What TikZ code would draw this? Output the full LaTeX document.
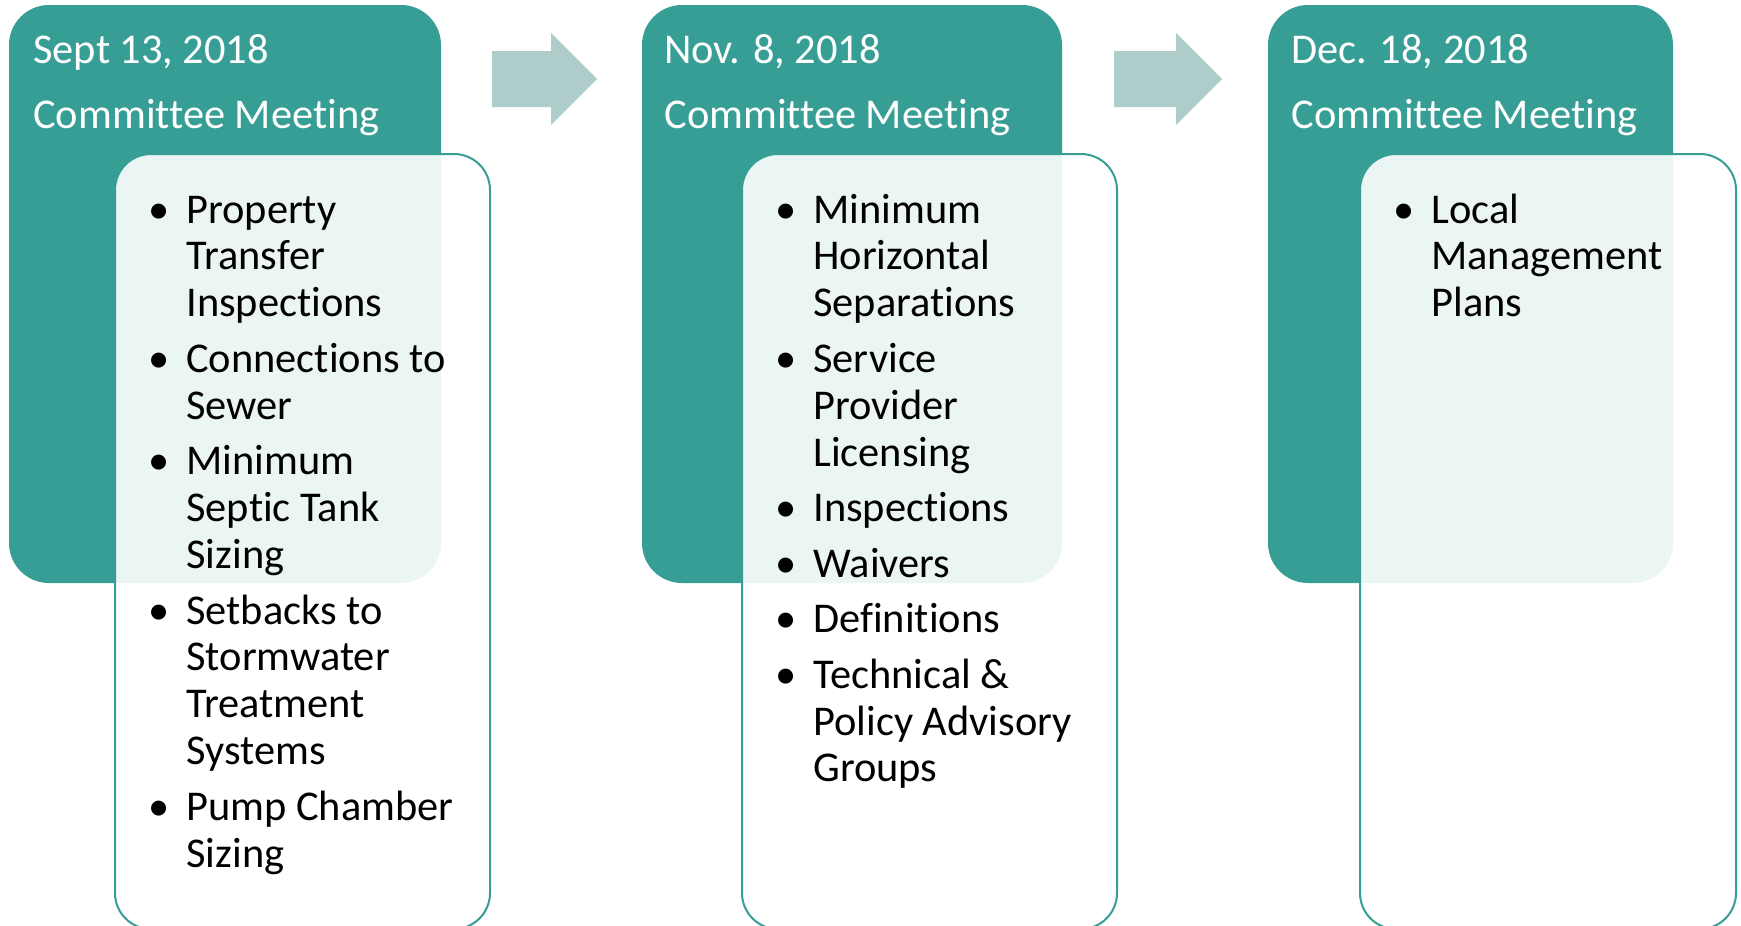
\documentclass[tikz,border=0pt]{standalone}
\usepackage{fontspec}
\setmainfont{Carlito}[Ligatures=NoCommon]
\usepackage{tikz}
\definecolor{meet}{HTML}{379E95}
\definecolor{flowc}{HTML}{AECDCA}
\definecolor{ink}{HTML}{000000}
\newcommand{\dfont}{\fontsize{21.2}{23.45}\selectfont}
\newcommand{\blt}[1]{\par\hangindent=13.5pt\hangafter=1\noindent\makebox[13.5pt][l]{\makebox[0pt][c]{\textbullet}}#1}
\newcommand{\topics}[1]{\parbox[t]{220pt}{\dfont\setlength{\parskip}{4.3pt}#1}}
\tikzset{
  head/.style={fill=meet, rounded corners=20pt},
  topic/.style={fill=white, fill opacity=0.9, draw=meet, line width=1pt, rounded corners=18pt},
  flow/.style={fill=flowc},
  date/.style={text=white, anchor=base west, inner sep=0pt, font=\dfont},
  items/.style={text=ink, anchor=base west, inner sep=0pt}
}

\begin{document}
\begin{tikzpicture}[x=0.5pt, y=-0.5pt]
  \useasboundingbox (0,0) rectangle (1741,926);

  % meeting blocks
  \fill[head] (9,5) rectangle (441,583);
  \fill[head] (642,5) rectangle (1062,583);
  \fill[head] (1268,5) rectangle (1673,583);

  % topic boxes
  \draw[topic] (115,154) rectangle (490,929);
  \draw[topic] (742,154) rectangle (1117,929);
  \draw[topic] (1360,154) rectangle (1736,929);

  % arrows
  \fill[flow] (492,51) -- (551,51) -- (551,33) -- (597,79) -- (551,125) -- (551,107) -- (492,107) -- cycle;
  \fill[flow] (1114,51) -- (1176,51) -- (1176,33) -- (1222,79) -- (1176,125) -- (1176,107) -- (1114,107) -- cycle;

  \node[date] (d1) at (33,63) {Sept 13, 2018};
  \node[date] (m1) at (33,128) {Committee Meeting};
  \node[date] (d2) at (664,63) {Nov. 8, 2018};
  \node[date] (m2) at (664,128) {Committee Meeting};
  \node[date] (d3) at (1291,63) {Dec. 18, 2018};
  \node[date] (m3) at (1291,128) {Committee Meeting};

  \node[items] (l1) at (159,223) {\topics{%
    \blt{Property\\Transfer\\Inspections}
    \blt{Connections to\\Sewer}
    \blt{Minimum\\Septic Tank\\Sizing}
    \blt{Setbacks to\\Stormwater\\Treatment\\Systems}
    \blt{Pump Chamber\\Sizing}}};
  \node[items] (l2) at (786,223) {\topics{%
    \blt{Minimum\\Horizontal\\Separations}
    \blt{Service\\Provider\\Licensing}
    \blt{Inspections}
    \blt{Waivers}
    \blt{Definitions}
    \blt{Technical \&\\Policy Advisory\\Groups}}};
  \node[items] (l3) at (1404,223) {\topics{%
    \blt{Local\\Management\\Plans}}};
\end{tikzpicture}
\end{document}
